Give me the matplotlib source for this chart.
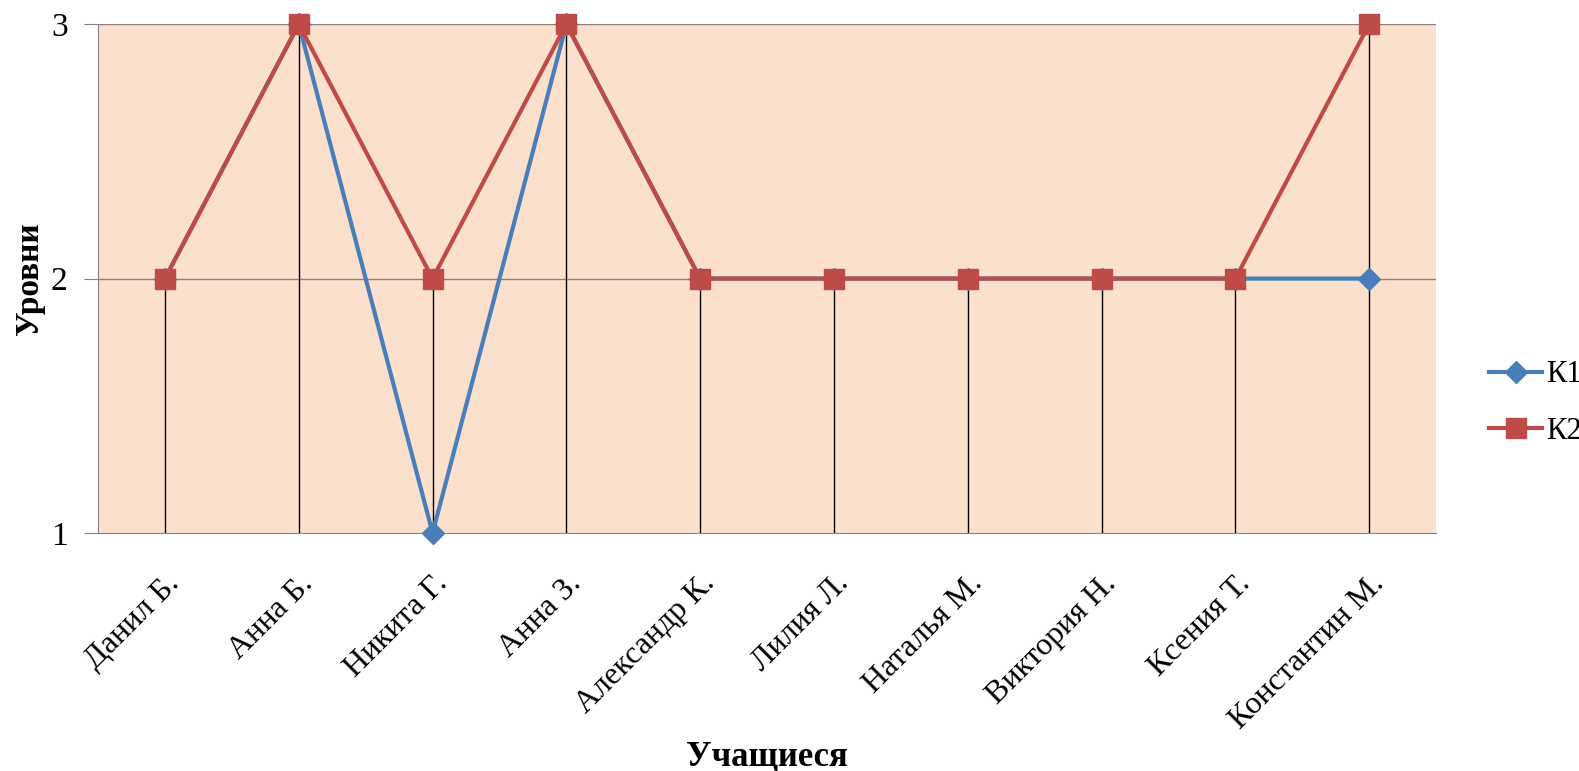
import matplotlib.pyplot as plt

students = ["Данил Б.", "Анна Б.", "Никита Г.", "Анна З.", "Александр К.",
            "Лилия Л.", "Наталья М.", "Виктория Н.", "Ксения Т.", "Константин М."]
k1 = [2, 3, 1, 3, 2, 2, 2, 2, 2, 2]
k2 = [2, 3, 2, 3, 2, 2, 2, 2, 2, 3]
y_ticks = [1, 2, 3]

plt.rcParams['font.family'] = ['Liberation Serif', 'DejaVu Serif']

fig = plt.figure(figsize=(15.79, 7.71), dpi=100)
ax = fig.add_axes([0.0621, 0.3087, 0.8474, 0.660])
ax.set_facecolor('#FBE1CD')

x = list(range(len(students)))

# gridlines
for y in y_ticks[1:]:
    ax.axhline(y, color='#8C8079', lw=1, zorder=1)

# drop lines from the highest point to the axis
for i in x:
    ax.plot([i, i], [1, max(k1[i], k2[i])], color='black', lw=1, zorder=2)

ax.plot(x, k1, color='#4A7EBB', lw=3, marker='D', markersize=11,
        label='К1', zorder=3, clip_on=False)
ax.plot(x, k2, color='#BE4B48', lw=3, marker='s', markersize=14,
        label='К2', zorder=4, clip_on=False)

ax.set_xlim(-0.5, len(students) - 0.5)
ax.set_ylim(1, 3)
ax.set_yticks(y_ticks)
ax.set_xticks(x)
ax.set_xticklabels(students, rotation=45, ha='right', rotation_mode='anchor',
                   fontsize=23)
ax.tick_params(axis='y', labelsize=24, length=10, color='#8C8079', pad=12)
ax.tick_params(axis='x', length=0, pad=26)

for side in ['top', 'right']:
    ax.spines[side].set_visible(False)
for side in ['left', 'bottom']:
    ax.spines[side].set_color('#8C8079')

fig.text(30 / 1579, 1 - 279 / 771, 'Уровни', rotation=90, ha='center',
         va='center', fontsize=24, fontweight='bold')
fig.text(767 / 1579, 1 - 757 / 771, 'Учащиеся', ha='center', va='center',
         fontsize=25, fontweight='bold')

handles, labels = ax.get_legend_handles_labels()
fig.legend(handles, labels, loc='center left',
           bbox_to_anchor=(1489 / 1579, 1 - 403 / 771), frameon=False,
           fontsize=22, handlelength=1.75, labelspacing=0.9, handletextpad=0.12,
           borderpad=0, borderaxespad=0)

fig.savefig('out.png', dpi=100)
